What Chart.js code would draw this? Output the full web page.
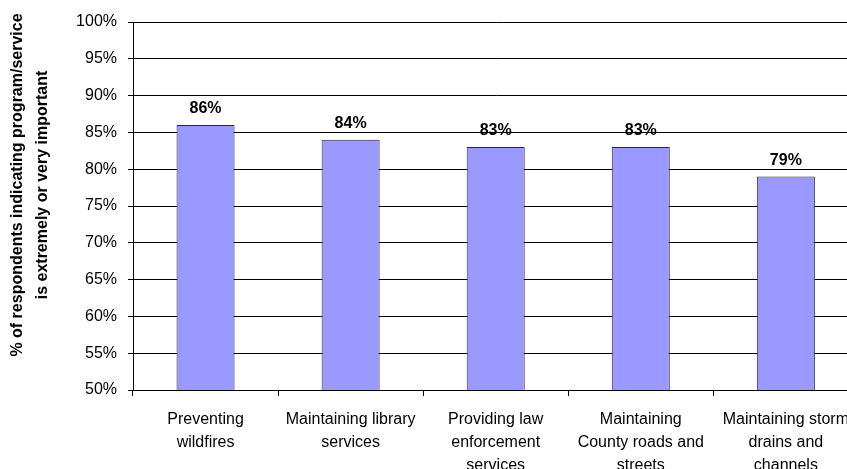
<!DOCTYPE html>
<html>
<head>
<meta charset="utf-8">
<script src="https://cdn.jsdelivr.net/npm/chart.js@4"></script>
<style>
  html, body { margin: 0; padding: 0; background: #fff; overflow: hidden; }
  canvas { display: block; }
</style>
</head>
<body>
<canvas id="importanceChart" width="861" height="469"></canvas>
<script>
/* ── Program importance bar chart ── */

const services = [
    ['Preventing', 'wildfires'],
    ['Maintaining library', 'services'],
    ['Providing law', 'enforcement', 'services'],
    ['Maintaining', 'County roads and', 'streets'],
    ['Maintaining storm', 'drains and', 'channels'],
];
const importantPct = [86, 84, 83, 83, 79];

const yMin  = 50;
const yMax  = 100;
const yStep = 5;

const axisTitle = [
    '% of respondents indicating program/service',
    'is extremely or very important',
];

const FONT = "'Liberation Sans', Arial, sans-serif";

// value labels above each bar
const barValueLabels = {
    id: 'barValueLabels',
    afterDatasetsDraw(chart) {
        const ctx = chart.ctx;
        const meta = chart.getDatasetMeta(0);
        ctx.save();
        ctx.font = `bold 16px ${FONT}`;
        ctx.fillStyle = '#000';
        ctx.textAlign = 'center';
        ctx.textBaseline = 'alphabetic';
        meta.data.forEach((bar, i) => {
            ctx.fillText(importantPct[i] + '%', bar.x, bar.y - 12);
        });
        ctx.restore();
    },
};

// rotated y axis title, sitting a little above the plot's middle
const sideTitle = {
    id: 'sideTitle',
    afterDraw(chart) {
        const ctx = chart.ctx;
        const area = chart.chartArea;
        const cy = (area.top + area.bottom) / 2 - 21;
        ctx.save();
        ctx.translate(18, cy);
        ctx.rotate(-Math.PI / 2);
        ctx.font = `bold 16px ${FONT}`;
        ctx.fillStyle = '#000';
        ctx.textAlign = 'center';
        ctx.textBaseline = 'middle';
        axisTitle.forEach((line, i) => ctx.fillText(line, 0, i * 25));
        ctx.restore();
    },
};

new Chart(document.getElementById('importanceChart').getContext('2d'), {
    type: 'bar',
    data: {
        labels: services,
        datasets: [{
            data: importantPct,
            backgroundColor: '#9999FF',
            borderColor: '#2a2a2a',
            borderWidth: 1,
            borderSkipped: 'bottom',
            barPercentage: 0.4,
            categoryPercentage: 1,
        }],
    },
    options: {
        responsive: false,
        animation: false,
        layout: { padding: { top: 22, right: 0, bottom: 0, left: 0 } },
        scales: {
            y: {
                min: yMin,
                max: yMax,
                ticks: {
                    stepSize: yStep,
                    color: '#000',
                    padding: 11,
                    font: { family: FONT, size: 16 },
                    callback: v => v + '%',
                },
                grid: { color: '#000', lineWidth: 1, tickLength: 5 },
                border: { color: '#000' },
                afterFit: s => { s.width = 133; },
            },
            x: {
                ticks: {
                    color: '#000',
                    padding: 12,
                    maxRotation: 0,
                    autoSkip: false,
                    font: { family: FONT, size: 16, lineHeight: 1.44 },
                },
                grid: { color: '#000', drawOnChartArea: false, tickLength: 6, offset: true },
                border: { color: '#000' },
                afterFit: s => { s.height = 79; },
            },
        },
        plugins: {
            legend:  { display: false },
            tooltip: { enabled: false },
        },
    },
    plugins: [barValueLabels, sideTitle],
});
</script>
</body>
</html>
